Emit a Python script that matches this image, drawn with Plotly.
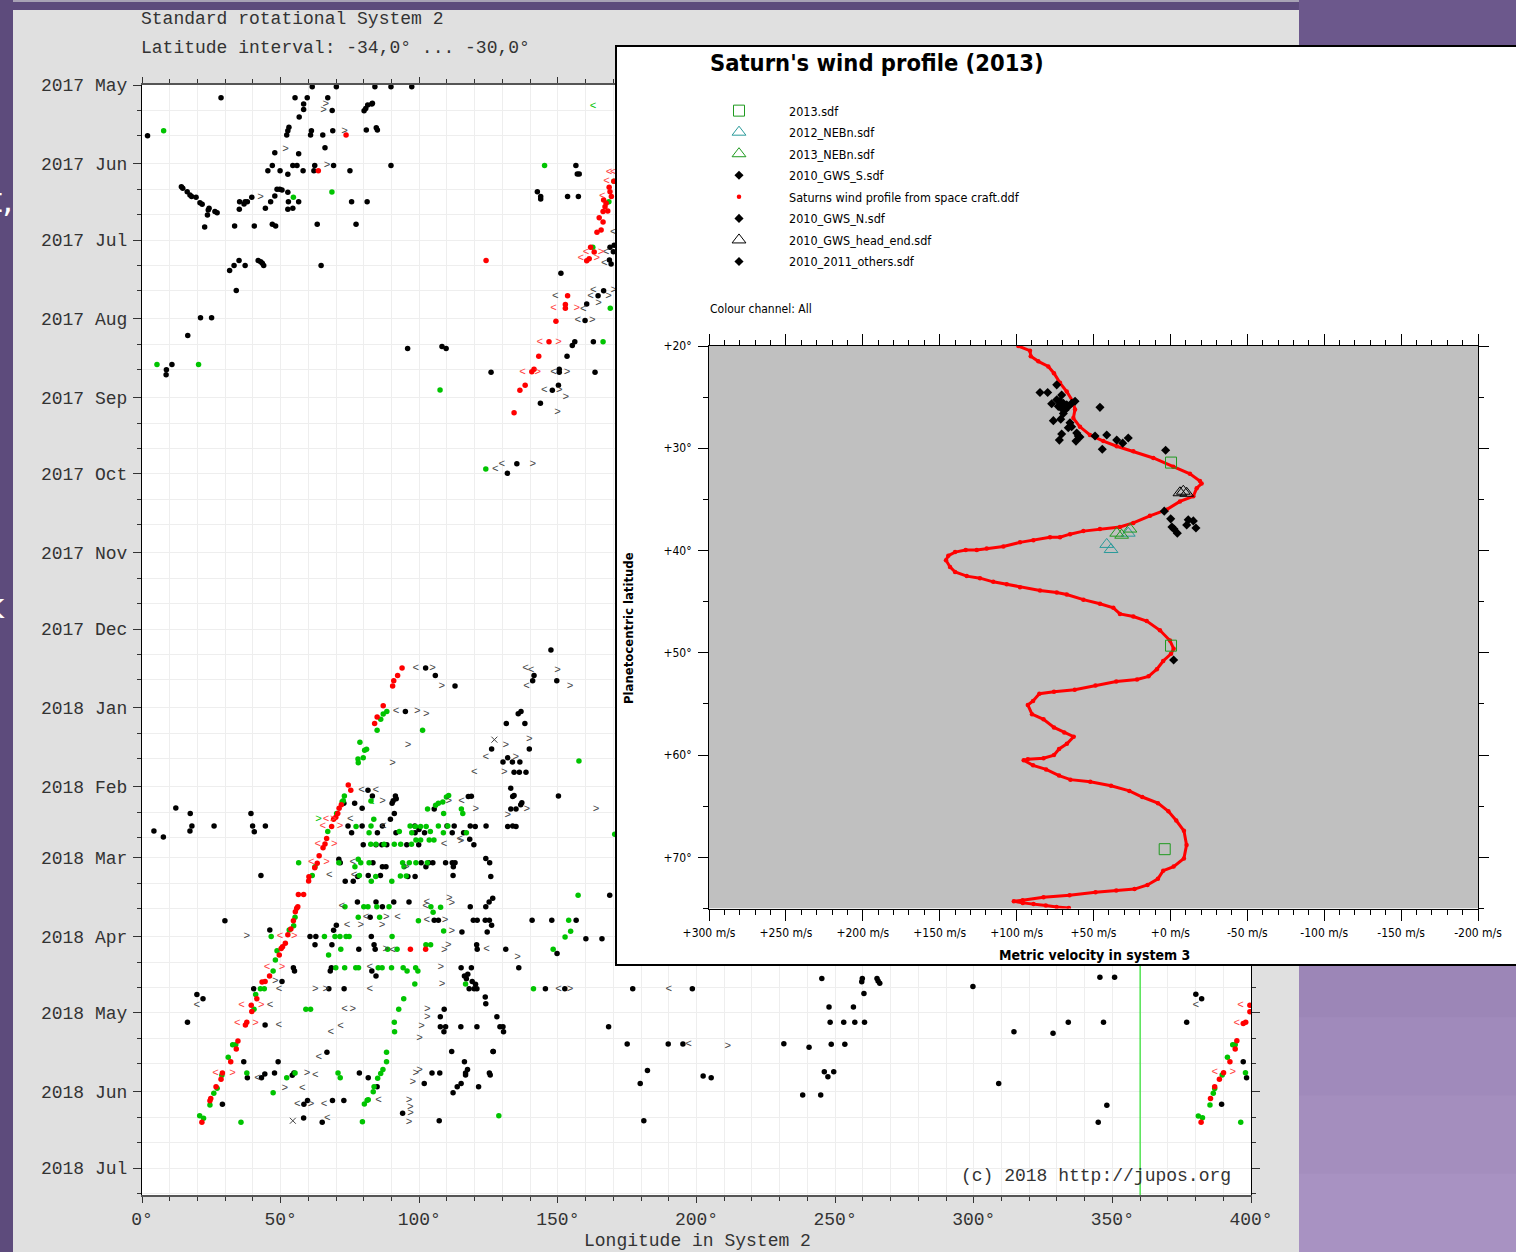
import plotly.graph_objects as go
from datetime import datetime, timedelta

W, H = 1516, 1252
def fx(p): return p / W
def fy(p): return 1 - p / H

# ---------------- main chart data: (longitude System 2 [deg], days since 2017-05-01)
START = datetime(2017, 5, 1)
END_DAY = 436.6

black_pts = [(2,20),(28.5,5),(55.2,5),(59.6,5),(61.4,0.7),(70.1,0.7),(67,5),(58.3,7.5),(58.3,9.6),(56.7,12.6),(68.6,10),(53,16.6),(52.6,18),(52.2,19.7),(61.1,18),(60.8,19.7),(65.2,19.7),(68.8,18),(84,0.7),(89.8,0.7),(97.3,0.7),(80.1,10.1),(80.7,9.2),(81.4,7.9),(82.9,7.5),(83.1,7.2),(80.9,17.7),(84.5,16.8),(84.9,17.7),(47.9,26.6),(56.5,27),(66,24.7),(45.4,33.7),(47,31.7),(49.8,33.7),(52.6,35.1),(54.4,31.7),(55.9,31.7),(58.1,33.7),(62.3,31.7),(62,33.7),(69.1,31.7),(75,33.7),(89.8,31.7),
(14.2,40),(14.7,40.6),(16.3,42),(17.3,43.3),(17.9,43.9),(19.5,44.2),(20.9,46.3),(21.7,46.9),(24.2,48.5),(23.9,49.2),(23.6,51.1),(26.3,49.8),(27.1,50.2),(22.6,55.9),(35.2,45.9),(35.1,48.9),(36.8,46.8),(37.2,45.9),(38,45.9),(39.6,44.2),(44.5,48.5),(46.4,45.9),(47.9,43.7),(48.7,41),(49.7,41),(50.5,41.3),(52.6,42.2),(52.8,45.9),(52.6,48.9),(54.4,48.5),(56.5,45.9),(33.4,55.5),(40.5,55.5),(47,54.8),(48.2,55.5),(63.2,54.8),(75.6,45.9),(81.2,45.9),(77.2,54.8),(31.6,73),(33.2,71),(35,69),(37.2,71),(41.9,69),(42.8,69.5),(43.4,70.1),(43.9,71),(34,80.8),(64.6,71),(95.8,103.6),(108.2,102.9),(109.7,103.6),(125.9,113),(8.8,112),(8.7,114),(10.8,109.9),(21.1,91.5),(25.1,91.5),(16.5,98.5),
(156.5,31.7),(157,35),(157.7,35),(142.6,42),(143.8,43.9),(143.8,44.8),(153.5,43.9),(157.4,43.9),(151.1,74),(163.4,113),(143.7,125.2),(168.8,63.8),(170.3,63),(170,65.6),(168.6,68.8),(169.2,70.4),(166.5,80.9),(164.5,82.9),(160.4,86.1),(159.8,92.6),(156.1,101),(155.2,102.5),(162.8,101),(153.3,106.7),(150.5,111.8),(150.5,113),(150.2,118.1),(148,120.1),(135.2,149),(131.8,152.7),(147.5,222.2),
(105.8,232.3),(112.9,236.4),(102.3,229.3),(141.4,232.3),(140.9,234.3),(149.6,234.3),(95,246.4),(136.7,246.4),(135.7,247.3),(131.4,251.1),(138.1,251.1),(126.1,261.2),(139.7,261.2),(130.2,266.3),(131.9,264.6),(133.6,266.3),(136.3,266.3),(134.2,270.3),(136.1,270.3),(138.5,270.3),(133,276.6),(133.7,279.9),(134.2,279.5),(137,282.3),(136.6,283.1),(133,284.8),(134.9,284.8),(131.9,291.7),(133.7,291.5),(134.9,291.7),(150.2,279.7),(72.8,282.5),(76.7,282.5),(79.4,284.5),(83.1,279.7),(81.5,277.4),(91.4,279.7),(90.6,281.5),(90.2,282.5),(91.7,280.7),(91,286.5),(89.6,288.8),(74.3,291.5),(79.4,291.5),(75.6,294.1),(84.9,294.1),(86.7,291.5),(91.6,294.1),(98.4,291.5),(98.5,294.1),(101.9,294.1),(99.9,292.8),(110,291.5),(112.6,291.5),(111.9,294.1),(116,294.1),(118.4,291.5),(120.2,291.7),(124.1,291.5),(118.2,296.7),(119.7,298.8),(105.4,284.8),(117.7,279.9),(118.8,279.8),(79.8,298.8),(84.4,298.8),(86.5,298.8),(88.3,298.8),(95.5,298.8),(99.8,298.8),(71,304.5),(71.5,305.9),(83.3,305.9),(86.7,307.5),(88,307.5),(100.7,305.9),(102.4,307.5),(103.4,305.9),(104.9,305.9),(109.5,305.9),(111.9,305.9),(112.3,307.5),(112.9,305.9),(124,304.2),(125.4,305.9),(125.8,311.3),(112.2,310.9),(42.9,310.9),(77.8,311.3),(81.6,310.9),(86,310.9),(95.9,311.3),(98.5,311.3),(73.3,313.2),(76.2,313.2),(46.1,332.4),(29.9,328.7),(77.7,321.4),(84.4,321.4),(86.7,323.2),(90.8,321.4),(96.3,321.4),(118.4,323.2),(124,323.2),(125.2,321.4),(126.5,319.9),(168.7,318.7),(82.3,327.4),(105.4,328.5),(106.9,328.5),(119.5,328.5),(120.9,328.5),(123.8,328.5),(125.3,328.5),(126.1,330.5),(140.7,328.5),(147.8,328.5),(156.6,328.5),(160.1,335.8),(165.9,335.8),(70.1,330.5),(69.1,332.5),(115.4,333.2),(124.5,333.2),(60.6,334.9),(62.7,334.9),(82.7,334.9),(62.4,338.2),(68.5,338.2),(83.7,338.2),(78.2,339.9),(84.1,339.9),(120.7,338.2),(120.9,339.9),(131.2,339.9),(149.7,341.6),
(12.2,284.4),(17.4,286.5),(4.3,293.4),(7.7,295.8),(17.3,293.4),(18,291.5),(26,291.5),(39.3,286.5),(39.9,291.5),(40.5,293.7),(44.5,291.5),
(54.6,347.2),(55,348.5),(50.5,352.6),(68.3,347.2),(67.9,348.5),(82.9,348.5),(84.4,350.5),(115.1,347.2),(118.8,347.2),(116.3,350.5),(117.5,349.8),(117,351.5),(119.1,352.6),(120.3,353.7),(119.8,355.5),(118,355.5),(120.8,355.5),(123.8,358.7),(124,361.4),(128,366.5),(129.1,370.4),(130.2,370.4),(130.4,372.4),(126.7,380.2),(135.9,347.2),(40.3,355.5),(72.9,355.5),(67.4,355.5),(145.5,355.5),(152.5,355.5),(177,355.5),(198.5,355.5),(19.8,357.7),(22,359.4),(109,363.5),(16.4,368.7),(44.4,369.7),(107.6,366.5),(107.6,370.4),(109.5,370.4),(108.9,372.4),(115,370.4),(120.8,370.4),(168.3,370.4),(175,377.2),(189.8,377.2),(195.1,377.2),(182.3,387.6),(179.7,392.7),(181,407.4),(36.7,384.2),(49.1,384.2),(66.7,380.5),(38,390.5),(43.1,390.5),(44.3,389),(47.8,388.6),(54.2,389.5),(54.8,388.6),(78.4,388.6),(81.6,390.5),(84.8,394),(104.6,388.6),(107.4,388.6),(101.8,392.7),(116.3,384.2),(117.4,387.2),(116.7,388.6),(116.7,389.4),(115.1,392.7),(113.7,394),(112.2,396.4),(121.4,394),(111.7,380.2),(125.3,388.6),(125.6,389.4),(126.6,380.2),(29,400.9),(58.4,400.9),(59.7,399.4),(68.7,399.4),(72.8,399.4),(94,404.4),(107.2,407.4),(58.3,406.3),(65,408),
(231.5,377.1),(240.6,378.5),(248.6,377.3),(253.5,377.3),(245.2,351.4),(259.8,351.4),(259.6,352.7),(265.1,351.4),(265.5,352.4),(266.1,353.3),(260.4,357.3),(247.8,362.7),(256.6,362.7),(248.2,368.7),(253.1,368.7),(257.1,368.7),(260.6,368.7),(299.7,354.6),(314.5,372.4),(328.6,373),(334.1,368.7),(346.8,368.7),(345.5,351),(350.8,351),(376.8,368.7),(380.1,357.6),(382.2,359.4),(202.4,389.8),(205.3,390.5),(246.1,388.1),(249.5,388.1),(247.4,390.1),(309,392.7),(238.3,397.3),(244.8,397.3),(348,401.3),(344.9,408),(397.2,384.2),(398.4,390.5),(389.4,400.9)]

green_pts = [(7.8,18),(54.6,44.2),(68.5,42.1),(5.4,109.9),(20.4,109.9),(107.5,120),(145.2,31.7),(168.4,45.9),(170.2,37.9),(162.6,63.8),(168.9,87.8),(166.3,101),(124,151),(88.3,246.4),(87,247.4),(86.1,249.5),(84.8,253.8),(101.2,253.8),(78.6,258.5),(81,261.3),(80.3,261.7),(79.8,264.6),(77.9,265.1),(78,266.6),(157.6,265.9),(170.5,294.7),(73,279.7),(72.6,281.5),(72.2,281.9),(70.2,286.5),(82.6,281.6),(83.6,288.8),(67,293.6),(77.2,291.7),(82.6,291.5),(81.9,294.1),(92.8,293.6),(96.7,291.5),(97.3,294.1),(98.6,291.7),(98.8,297),(100.5,297),(100.5,291.7),(102.5,291.7),(103.6,297),(105.3,297),(104,293.6),(106.9,291.5),(108.7,294.1),(110.3,291.5),(117,294.1),(108.8,286.5),(115.7,286.5),(115.2,284.8),(103,284.8),(108.5,282),(109.8,280.1),(110.6,279.5),(106.9,282.5),(105.9,283.3),(82.5,298.6),(84.4,298.6),(87.3,298.6),(91,298.6),(93.3,298.6),(97.2,298.6),(56.5,305.9),(71,305.9),(78,304.5),(78.9,305.9),(76.8,307.5),(81.9,305.9),(94,305.9),(94.5,307.5),(96.4,305.9),(98.8,305.9),(102.9,305.9),(61.4,310.9),(78.4,310.9),(84.3,311.3),(82.7,313.2),(90.1,313.2),(93.2,311.1),(95.3,311.1),(55.2,327.4),(54.7,330.7),(53.1,332.4),(48.7,340.5),(46.6,334.9),(73.2,323.2),(80,323.2),(81.5,323.2),(84.7,323.2),(89.1,323.2),(104.2,323.2),(107.7,323.4),(105,325.4),(157.3,318.7),(78,327.4),(85.7,327.4),(99.7,328.7),(153.9,328.5),(154.6,332.9),(152.6,335.1),(108.8,332.8),(65.8,334.9),(69.6,334.9),(71.4,334.9),(73.6,334.9),(74.7,334.9),(90.2,334.9),(71.7,339.9),(88.6,339.9),(92,339.9),(102.4,338.2),(104.1,338.2),(148.3,339.9),(67.3,342.2),(48.1,344.2),(47.3,348.5),(42.7,355.5),(44.1,355.5),(41,357.7),(40.4,363.5),(69.9,347.2),(73.1,347.2),(77.1,347.2),(78.1,347.2),(85.2,347.2),(86.6,347.2),(90,347.2),(94.2,347.2),(95.6,348.5),(98.7,347.2),(99.5,348.5),(116.7,353.6),(98.4,353.6),(94.4,359.4),(92.6,363.5),(91,368.7),(91.1,372.4),(88.2,380.5),(88.2,384.2),(86.9,387.2),(86.1,388.8),(85,390.7),(83.7,394),(83.4,396),(81.2,399.3),(80.2,400.8),(79.5,407.8),(141.2,355.5),(59.1,363.5),(60.8,363.5),(32.7,377.5),(33.8,377.5),(31.1,382.4),(28.8,389.5),(27.1,394.6),(25.9,396.6),(24.5,401.2),(20.8,405.4),(22.2,406.4),(37.8,388.6),(52.2,390.5),(55.2,388.6),(47.3,396.4),(70.7,388.6),(71.5,390.5),(81.6,399.1),(128.7,405.4),(35.7,408),(62.4,307.5),
(393.4,377.5),(394.3,377.5),(391.5,382.4),(389.6,389.4),(386.9,394.7),(386.4,396.6),(385.2,401.2),(381,405.5),(382.5,406.2),(398,388.5),(396.3,408)]

red_pts = [(73.6,19.7),(63.6,33.7),(124.1,69),(170.2,37.9),(168.5,40.2),(168.8,42),(169.3,43.9),(166.5,45.2),(167.4,46.5),(167,47.9),(168,49.6),(166.3,49.8),(164.9,52.2),(166.3,53.9),(165.6,57),(164.1,57.9),(161.8,63.8),(163.1,65.7),(161.3,68.3),(160.4,69.1),(153.5,82.9),(152.7,86.3),(152.7,87.8),(149.3,92.9),(146.8,101),(143.1,106.7),(141.4,111.8),(140.6,112.8),(138.2,118.1),(136.3,120.1),(134.2,128.9),
(93.8,229.3),(92.2,232.3),(90.8,234.3),(90.4,236.4),(87,244.2),(84.8,248.6),(83.9,251.1),(74.4,275.3),(75.3,277.4),(71.9,283.1),(71.1,284.5),(70.6,286.5),(69.9,288),(69.1,288.8),(68.4,291.7),(66.6,296.4),(66,298.5),(65.3,300),(63.9,303.2),(63.2,306.1),(62.3,307.9),(60.2,311.4),(60.1,313.1),(56.4,318.4),(58.3,318.4),(56.2,323.2),(55.8,323.8),(55.3,325.2),(54.6,328.7),(53.7,332),(51.7,337.6),(50.7,339),(50.2,339.6),(49.5,342.2),(52.6,334.2),(96.8,339.9),(102.3,339.9),(46,350.5),(44.4,352.6),(43.3,352.8),(41.4,359.4),(39.4,362),(39.6,364.4),(37.3,369.7),(37.8,368.7),(34.6,376),(34,379.2),(32,384.2),(29,388.6),(28.5,391.1),(26.7,394),(24.8,398.6),(24.5,399.5),(21.6,408),
(399.6,362),(399.6,364.5),(397.2,369.1),(398.1,368.7),(394.9,375.9),(394.3,379.2),(392.4,384.2),(390.1,388.5),(388.6,391.1),(386.9,394),(385.4,398.6),(382,408)]

lt_black = [(162.8,80.9),(161.8,82.9),(159.2,88.2),(157.2,92.6),(148.4,113),(145.1,120.1),(149.1,82.9),(167.4,65.7),(166.7,70.1),(170,57.9),(129.8,149),(127.4,151),(98.8,229.3),(138.3,229.3),(140.3,230.1),(138.7,236.4),(91.6,246.4),(124,264.6),(119.9,270.3),(79.2,277.4),(84.3,277.4),(75.1,288.8),(87,291.5),(114.6,296.5),(108.9,298.8),(76,305.9),(67.6,310.9),(76.5,310.9),(72.1,323.2),(102.7,321.4),(102.3,323.2),(80.8,327.4),(92.2,327.4),(102.7,328.7),(74,330.5),(90.4,340.2),(124.3,339.9),(49.4,355.5),(82.2,347.2),(82.2,355.5),(150.2,355.5),(190,355.5),(19.8,362),(46.2,362),(49.3,369.7),(71.6,370.4),(68.1,372.4),(63.8,382.4),(41.7,390.5),(57.8,394.5),(62.5,389.4),(56,400.9),(65.7,400.9),(85.3,399.4),(66.8,406.4),(73.1,363.5),(197.1,377.2),(380.1,362),(115.3,281.7)]
gt_black = [(66.3,7.5),(65.5,10),(73.1,18),(51.8,25.1),(66.7,31.7),(42.8,44.2),(170.2,80.9),(168.3,82.9),(164.7,85.9),(162.4,92.6),(153.3,113),(150.5,120.1),(152.9,122.8),(149.9,128.9),(141,149),(104.8,229.3),(108.1,236.3),(149.9,230.1),(154.4,236.4),(99.3,246.4),(102.5,247.4),(96,259.6),(90.4,266.6),(131.2,259.6),(139.7,257.5),(134.8,264.6),(130.7,270.3),(138.8,284.8),(131.9,287.2),(163.8,284.8),(86.8,281.9),(110.7,281.7),(120.4,284.8),(115.1,297.6),(95.3,307.5),(110.8,319.9),(111.7,321.9),(88.1,327.4),(109.3,328.5),(78.9,330.5),(86.6,330.5),(111.7,332.8),(37.8,334.9),(87.9,339.9),(110.5,338.2),(109,340.2),(135.5,343.2),(48.1,352.6),(62.5,355.5),(66.3,355.5),(107.8,347.2),(108.2,353.7),(76,363.5),(102.9,363.5),(102.9,366.5),(100.8,370.4),(100.1,375.1),(154.4,355.5),(51.5,394.5),(59.5,388.6),(98.8,388.6),(100.1,387.5),(97.7,392.4),(61,400.9),(96.3,399.3),(96.8,401.9),(96.9,404.4),(96.3,407.8),(211.3,378)]
lt_red = [(168.5,34.5),(170,34.5),(167.6,38),(166,43.9),(160.2,65.7),(158.3,68.3),(148.4,87.8),(143.5,101),(137.3,113),(66.4,288.8),(65.2,291.7),(63.4,298.7),(61.1,305.9),(49.8,334.7),(45.1,347.2),(35.9,362),(34.4,369.1),(26.5,388.6),(396.2,362),(394.9,369.1),(386.9,388.5)]
gt_red = [(165.6,65.7),(164,68.3),(156.8,87.8),(150.2,101),(142.8,113),(69,288.8),(71.4,291.7),(69.4,298.7),(66.6,305.9),(54.9,334.7),(50.5,347.2),(43,362),(41,369.1),(32.7,388.6),(393.4,388.5)]
lt_green = [(162.7,8.5),(82.7,282.1)]
gt_green = [(63.7,288.8)]
x_marks = [(127.1,257.5),(54.4,407.4)]

month_ticks = ["2017-05-01","2017-06-01","2017-07-01","2017-08-01","2017-09-01","2017-10-01","2017-11-01",
               "2017-12-01","2018-01-01","2018-02-01","2018-03-01","2018-04-01","2018-05-01","2018-06-01","2018-07-01"]
month_labels = ["2017 May","2017 Jun","2017 Jul","2017 Aug","2017 Sep","2017 Oct","2017 Nov",
                "2017 Dec","2018 Jan","2018 Feb","2018 Mar","2018 Apr","2018 May","2018 Jun","2018 Jul"]
lon_ticks = [0, 50, 100, 150, 200, 250, 300, 350, 400]
lon_labels = ["0°","50°","100°","150°","200°","250°","300°","350°","400°"]
marker_lon = 360

# ---------------- inset: Saturn wind profile (velocity m/s, planetocentric latitude deg)
profile_v = [98.9,91.3,90.8,85.9,79.4,75.7,71.8,67.4,63.5,62,63.1,58.8,52.3,43.6,34.9,24.1,11.1,-1.9,-12.7,-19.2,-20.3,-17.1,-14.9,-6.2,2.4,13.3,24.1,32.8,45.8,56.6,65.3,71.8,78.3,89.1,97.8,108.6,119.4,125.9,133.1,140,144.4,145.9,143.3,140,132.4,123.8,115.2,106.4,97.8,84.8,73.9,67.4,56.6,45.8,37.1,32.8,24.1,15.4,6.8,0.3,-2.1,-0.4,4.7,8.8,14.2,21.7,35.2,48.7,62.2,75.7,85.2,89.3,92.7,90,82.5,75.7,69,62.9,67.3,72.4,75.7,82.5,92.7,95.4,89.3,80.8,72.4,65,52.1,38.6,26.7,18.3,8.1,1.3,-3.8,-8.8,-10.5,-8.8,-2.1,4.7,8.1,14.9,23.3,35.2,48.7,65.6,82.5,96.1,101.8,96,89,81,74,66]
profile_lat = [20,20.46,21,21.5,22,22.66,23.6,24.45,25.4,26.2,27.05,27.9,28.7,29.3,29.8,30.3,30.95,31.8,32.5,33.2,33.45,33.9,34.7,35.2,36,36.6,37.3,37.7,37.9,38.1,38.4,38.7,38.7,39,39.2,39.6,39.8,39.95,39.95,40.15,40.5,40.95,41.6,42.1,42.5,42.7,43.06,43.3,43.6,43.9,44.1,44.3,44.8,45.2,45.6,46.2,46.45,46.9,47.8,48.8,49.6,50.1,50.8,51.6,52.3,52.6,52.8,53.2,53.6,53.8,54,54.7,55.1,56,56.5,57.3,57.8,58.2,58.9,59.4,60,60.3,60.4,60.5,61,61.4,62,62.4,62.6,63,63.5,64.1,64.7,65.5,66.4,67.4,68.8,70.1,70.9,71.3,72.1,72.7,73.1,73.25,73.4,73.7,73.9,74.2,74.3,74.45,74.55,74.7,74.85,74.95]
gws_s_v = [84.8,79.8,70.7,73.9,77.2,73.9,71.8,69.6,67.4,72.9,70.7,68.5,66.3,62,64.2,69.6,76.1,71.3,65.3,66.4,64.2,70.7,72.2,60.9,58.8,61.4,59.9,45.8,49,41.4,34.9,31,27.4,44.3,3.1]
gws_s_lat = [24.55,24.55,24.8,23.8,25.65,25.26,25.4,25.6,25.75,25.9,26.1,26.25,25.9,25.4,25.6,26.6,27.3,27.15,27.5,28,27.9,28.6,29.2,28.5,28.9,29.3,28.8,26,28.8,28.7,29.2,29.5,29,30.1,30.2]
gws_n_v = [-2.1]
gws_n_lat = [50.7]
others_v = [4,-0.2,-1,-2.3,-4.5,-11.6,-14.9,-10.6,-16.6]
others_lat = [36.15,36.9,37.7,37.9,38.3,37,37.1,37.5,37.8]
sdf2013_v = [-0.4,-0.4,3.7]
sdf2013_lat = [31.4,49.3,69.2]
head_v = [-6.2,-10.6,-8.4]
head_lat = [34.35,34.4,34.2]
neb13_v = [34.9,31.7,26.3]
neb13_lat = [38.3,38.5,37.9]
neb12_v = [41.4,38.6,27.4]
neb12_lat = [39.4,39.9,38.3]
vel_ticks = [300,250,200,150,100,50,0,-50,-100,-150,-200]
vel_labels = ["+300 m/s","+250 m/s","+200 m/s","+150 m/s","+100 m/s","+50 m/s","+0 m/s","-50 m/s","-100 m/s","-150 m/s","-200 m/s"]
lat_ticks = [20,30,40,50,60,70]
lat_labels = ["+20°","+30°","+40°","+50°","+60°","+70°"]

MONO = "Courier New, Liberation Mono, monospace"
NARROW = "Liberation Sans Narrow, DejaVu Sans Condensed, Arial Narrow, Liberation Sans, sans-serif"

def d2t(d): return START + timedelta(days=float(d))
def xs(pts): return [p[0] for p in pts]
def ys(pts): return [d2t(p[1]) for p in pts]

fig = go.Figure()

# main chart
fig.add_trace(go.Scatter(x=[marker_lon, marker_lon], y=[d2t(-5), d2t(END_DAY + 5)], mode="lines",
                         line=dict(color="#00dd00", width=1), showlegend=False, hoverinfo="skip"))
for pts, col in [(black_pts, "black"), (green_pts, "#00c400"), (red_pts, "#ff0000")]:
    fig.add_trace(go.Scatter(x=xs(pts), y=ys(pts), mode="markers",
                             marker=dict(color=col, size=5.5, line=dict(width=0)),
                             showlegend=False, hoverinfo="skip"))
for pts, ch, col in [(lt_black, "<", "#444444"), (gt_black, ">", "#444444"), (lt_red, "<", "#ff3c3c"),
                     (gt_red, ">", "#ff3c3c"), (lt_green, "<", "#00c400"), (gt_green, ">", "#00c400")]:
    fig.add_trace(go.Scatter(x=xs(pts), y=ys(pts), mode="text", text=[ch] * len(pts),
                             textfont=dict(family=MONO, size=11, color=col),
                             showlegend=False, hoverinfo="skip"))
fig.add_trace(go.Scatter(x=xs(x_marks), y=ys(x_marks), mode="markers",
                         marker=dict(symbol="x-thin-open", size=6, color="#444444",
                                     line=dict(color="#444444", width=1)),
                         showlegend=False, hoverinfo="skip"))

# box subplot (covers main chart behind the inset)
fig.add_trace(go.Scatter(x=[0.5], y=[0.5], xaxis="x2", yaxis="y2", mode="markers",
                         marker=dict(opacity=0), showlegend=False, hoverinfo="skip"))

# inset
fig.add_trace(go.Scatter(x=profile_v, y=profile_lat, xaxis="x3", yaxis="y3", mode="lines",
                         line=dict(color="#ff0000", width=3), showlegend=False, hoverinfo="skip"))
inset = [
    (profile_v, profile_lat, dict(color="#ff0000", size=4.5), "Saturns wind profile from space craft.ddf", 5),
    (gws_s_v, gws_s_lat, dict(symbol="diamond", color="black", size=7), "2010_GWS_S.sdf", 4),
    (gws_n_v, gws_n_lat, dict(symbol="diamond", color="black", size=7), "2010_GWS_N.sdf", 6),
    (others_v, others_lat, dict(symbol="diamond", color="black", size=7), "2010_2011_others.sdf", 8),
    (head_v, head_lat, dict(symbol="triangle-up-open", color="black", size=12, line=dict(width=1)), "2010_GWS_head_end.sdf", 7),
    (neb12_v, neb12_lat, dict(symbol="triangle-up-open", color="#2a9a9a", size=12, line=dict(width=1)), "2012_NEBn.sdf", 2),
    (neb13_v, neb13_lat, dict(symbol="triangle-up-open", color="#1f9a1f", size=12, line=dict(width=1)), "2013_NEBn.sdf", 3),
    (sdf2013_v, sdf2013_lat, dict(symbol="square-open", color="#1f9a1f", size=11, line=dict(width=1)), "2013.sdf", 1),
]
for vx, vy, mk, nm, rk in inset:
    fig.add_trace(go.Scatter(x=vx, y=vy, xaxis="x3", yaxis="y3", mode="markers", marker=mk, name=nm,
                             legendrank=rk, legendgroup=nm))

minor_days = []
for m in month_ticks:
    y, mo = int(m[:4]), int(m[5:7])
    minor_days += [f"{y}-{mo:02d}-11", f"{y}-{mo:02d}-21"]

GRID = "#eeeeee"
shapes = []
shapes.append(dict(type="rect", xref="paper", yref="paper", x0=0, x1=1, y0=fy(10), y1=1,
                   fillcolor="#5d4b7c", line=dict(width=0), layer="below"))
shapes.append(dict(type="rect", xref="paper", yref="paper", x0=0, x1=1, y0=fy(2), y1=1,
                   fillcolor="#a8a2b5", line=dict(width=0), layer="below"))
shapes.append(dict(type="rect", xref="paper", yref="paper", x0=0, x1=fx(13), y0=0, y1=1,
                   fillcolor="#5d4b7c", line=dict(width=0), layer="below"))
nb = 16
c0, c1 = (0x6c, 0x58, 0x8c), (0xa8, 0x92, 0xc2)
for i in range(nb):
    t = i / (nb - 1)
    c = tuple(int(round(c0[k] + (c1[k] - c0[k]) * t)) for k in range(3))
    shapes.append(dict(type="rect", xref="paper", yref="paper", x0=fx(1299), x1=1,
                       y0=1 - (i + 1) / nb - 0.001, y1=1 - i / nb, fillcolor="rgb(%d,%d,%d)" % c,
                       line=dict(width=0), layer="below"))
shapes.append(dict(type="rect", xref="x3", yref="y3", x0=300, x1=-200, y0=20, y1=75,
                   fillcolor="#c0c0c0", line=dict(width=0), layer="below"))
shapes.append(dict(type="rect", xref="paper", yref="paper", x0=fx(616), x1=fx(1530), y0=fy(965), y1=fy(46),
                   fillcolor="rgba(0,0,0,0)", line=dict(color="black", width=2), layer="above"))

ann = []
def A(text, x, y, size, fam=MONO, color="#333333", xanchor="left", bold=False, angle=0):
    ann.append(dict(text=("<b>%s</b>" % text) if bold else text, x=fx(x), y=fy(y), xref="paper", yref="paper",
                    xanchor=xanchor, yanchor="middle", showarrow=False, textangle=angle,
                    font=dict(family=fam, size=size, color=color)))
A("Standard rotational System 2", 139, 19, 18)
A("Latitude interval: -34,0° ... -30,0°", 139, 48, 18)
A("Longitude in System 2", 697, 1241, 18, xanchor="center")
A("(c) 2018 http://jupos.org", 1233, 1176, 18, xanchor="right")
A("Saturn's wind profile (2013)", 708, 63, 23.5, fam=NARROW, color="black", bold=True)
A("Colour channel: All", 708, 309, 12, fam=NARROW, color="black")
A("Planetocentric latitude", 628, 628, 13, fam=NARROW, color="black", xanchor="center", bold=True, angle=-90)
A("Metric velocity in system 3", 1094, 955, 14, fam=NARROW, color="black", xanchor="center", bold=True)
A("t,", 15, 200, 34, fam="DejaVu Sans", color="white", xanchor="right")
A("k", 7, 606, 34, fam="DejaVu Sans", color="white", xanchor="right")

fig.update_layout(
    width=W, height=H, margin=dict(l=0, r=0, t=0, b=0, pad=0, autoexpand=False),
    paper_bgcolor="#e0e0e0", plot_bgcolor="white",
    shapes=shapes, annotations=ann,
    xaxis=dict(domain=[fx(142), fx(1251)], range=[0, 400], tickmode="array", tickvals=lon_ticks, ticktext=lon_labels,
               ticks="outside", ticklen=6, tickcolor="#333", showline=True, linecolor="#555", linewidth=2,
               mirror="ticks", zeroline=False, showgrid=True, gridcolor=GRID, automargin=False,
               minor=dict(dtick=10, tick0=0, ticks="outside", ticklen=4, tickcolor="#333", showgrid=True, gridcolor=GRID),
               tickfont=dict(family=MONO, size=18, color="#333"), ticklabelstandoff=0, fixedrange=True),
    yaxis=dict(domain=[fy(1195), fy(85)], type="date", range=[d2t(END_DAY), START], tickmode="array",
               tickvals=month_ticks, ticktext=month_labels, ticks="outside", ticklen=8, tickcolor="#333",
               showline=True, linecolor="black", linewidth=1, mirror="ticks", zeroline=False,
               showgrid=True, gridcolor=GRID, automargin=False,
               minor=dict(tickvals=minor_days, ticks="outside", ticklen=4, tickcolor="#333", showgrid=True, gridcolor=GRID),
               tickfont=dict(family=MONO, size=18, color="#333"), ticklabelstandoff=2, fixedrange=True),
    xaxis2=dict(domain=[fx(616), 1.0], range=[0, 1], visible=False, anchor="y2", fixedrange=True),
    yaxis2=dict(domain=[fy(965), fy(46)], range=[0, 1], visible=False, anchor="x2", fixedrange=True),
    xaxis3=dict(domain=[fx(709), fx(1478)], range=[300, -200], anchor="y3", tickmode="array", tickvals=vel_ticks,
                ticktext=vel_labels, ticks="outside", ticklen=11, tickcolor="black", showline=True, linecolor="black",
                linewidth=1, mirror="ticks", showgrid=False, zeroline=False, automargin=False,
                minor=dict(dtick=10, tick0=0, ticks="outside", ticklen=5, tickcolor="black", showgrid=False),
                tickfont=dict(family=NARROW, size=12, color="black"), ticklabelstandoff=2, fixedrange=True),
    yaxis3=dict(domain=[fy(908.5), fy(346)], range=[75, 20], anchor="x3", tickmode="array", tickvals=lat_ticks,
                ticktext=lat_labels, ticks="outside", ticklen=10, tickcolor="black", showline=True, linecolor="black",
                linewidth=1, mirror="ticks", showgrid=False, zeroline=False, automargin=False,
                minor=dict(dtick=5, tick0=0, ticks="outside", ticklen=5, tickcolor="black", showgrid=False),
                tickfont=dict(family=NARROW, size=12, color="black"), ticklabelstandoff=4, fixedrange=True),
    legend=dict(x=fx(689), y=fy(96), xanchor="left", yanchor="top", bgcolor="rgba(0,0,0,0)",
                font=dict(family=NARROW, size=12.5, color="black"), itemwidth=90, tracegroupgap=2.3,
                borderwidth=0),
)

fig.write_html("out.html", config={"displayModeBar": False},
               post_script="document.body.style.margin='0';document.body.style.overflow='hidden';")
